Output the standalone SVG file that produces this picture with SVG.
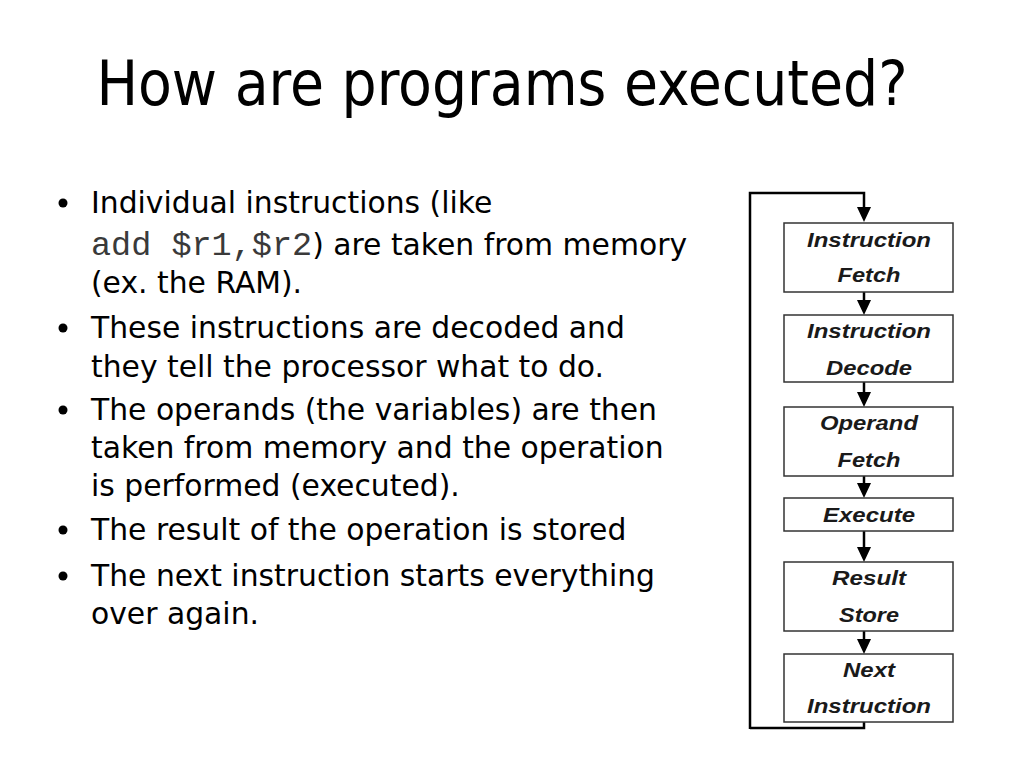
<svg xmlns="http://www.w3.org/2000/svg" width="1024" height="768" viewBox="0 0 1024 768">
<defs>
<style>
.title{font-family:"DejaVu Sans Condensed","DejaVu Sans",sans-serif;font-size:61.5px;fill:#000}
.body{font-family:"DejaVu Sans",sans-serif;font-size:29.8px;fill:#000}
.mono{font-family:"Liberation Mono",monospace;font-size:33.5px;fill:#3a3a3a}
.box{fill:#fff;stroke:#333;stroke-width:1.5}
.lbl{font-family:"Liberation Sans",Arial,sans-serif;font-size:21px;font-weight:bold;font-style:italic;fill:#1a1a1a;text-anchor:middle}
.wire{fill:none;stroke:#000;stroke-width:2.5}
.head{fill:#000}
</style>
</defs>
<rect width="1024" height="768" fill="#fff"/>
<text class="title" x="502" y="105" text-anchor="middle">How are programs executed?</text>
<g id="bullets">
<circle cx="63" cy="203" r="4.5"/>
<text class="body" x="91" y="213">Individual instructions (like</text>
<text x="91" y="255"><tspan class="mono">add $r1,$r2</tspan><tspan class="body">) are taken from memory</tspan></text>
<text class="body" x="91" y="293">(ex. the RAM).</text>
<circle cx="63" cy="328" r="4.5"/>
<text class="body" x="91" y="338">These instructions are decoded and</text>
<text class="body" x="91" y="377">they tell the processor what to do.</text>
<circle cx="63" cy="410" r="4.5"/>
<text class="body" x="91" y="420">The operands (the variables) are then</text>
<text class="body" x="91" y="458">taken from memory and the operation</text>
<text class="body" x="91" y="496">is performed (executed).</text>
<circle cx="63" cy="530" r="4.5"/>
<text class="body" x="91" y="540">The result of the operation is stored</text>
<circle cx="63" cy="576" r="4.5"/>
<text class="body" x="91" y="586">The next instruction starts everything</text>
<text class="body" x="91" y="624">over again.</text>
</g>
<g id="connectors">
<path class="wire" d="M750,729 V193 H864 V208"/>
<polygon class="head" points="857,207 871,207 864,222"/>
<path class="wire" d="M864,292 V301"/>
<polygon class="head" points="857,300 871,300 864,315"/>
<path class="wire" d="M864,382 V393"/>
<polygon class="head" points="857,392 871,392 864,407"/>
<path class="wire" d="M864,476 V484"/>
<polygon class="head" points="857,483 871,483 864,498"/>
<path class="wire" d="M864,531 V548"/>
<polygon class="head" points="857,547 871,547 864,562"/>
<path class="wire" d="M864,631 V640"/>
<polygon class="head" points="857,639 871,639 864,654"/>
<path class="wire" d="M864,722 V728 H750"/>
</g>
<g id="n1"><rect class="box" x="784" y="223" width="169" height="69"/>
<text class="lbl" x="869" y="247" textLength="124" lengthAdjust="spacingAndGlyphs">Instruction</text>
<text class="lbl" x="869" y="282" textLength="63" lengthAdjust="spacingAndGlyphs">Fetch</text></g>
<g id="n2"><rect class="box" x="784" y="315" width="169" height="67"/>
<text class="lbl" x="869" y="338" textLength="124" lengthAdjust="spacingAndGlyphs">Instruction</text>
<text class="lbl" x="869" y="375" textLength="86" lengthAdjust="spacingAndGlyphs">Decode</text></g>
<g id="n3"><rect class="box" x="784" y="407" width="169" height="69"/>
<text class="lbl" x="869" y="430" textLength="98" lengthAdjust="spacingAndGlyphs">Operand</text>
<text class="lbl" x="869" y="467" textLength="63" lengthAdjust="spacingAndGlyphs">Fetch</text></g>
<g id="n4"><rect class="box" x="784" y="498" width="169" height="33"/>
<text class="lbl" x="869" y="522" textLength="92" lengthAdjust="spacingAndGlyphs">Execute</text></g>
<g id="n5"><rect class="box" x="784" y="562" width="169" height="69"/>
<text class="lbl" x="869" y="585" textLength="74" lengthAdjust="spacingAndGlyphs">Result</text>
<text class="lbl" x="869" y="622" textLength="60" lengthAdjust="spacingAndGlyphs">Store</text></g>
<g id="n6"><rect class="box" x="784" y="654" width="169" height="68"/>
<text class="lbl" x="869" y="677" textLength="52" lengthAdjust="spacingAndGlyphs">Next</text>
<text class="lbl" x="869" y="713" textLength="124" lengthAdjust="spacingAndGlyphs">Instruction</text></g>
</svg>
